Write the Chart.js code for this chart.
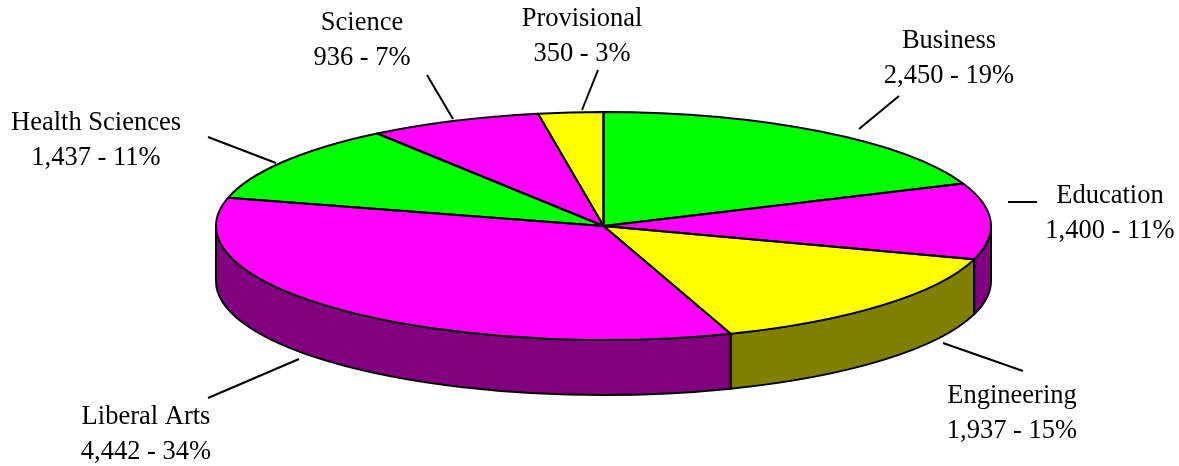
<!DOCTYPE html>
<html>
<head>
<meta charset="utf-8">
<script src="https://cdn.jsdelivr.net/npm/chart.js@4"></script>
<style>
  body { margin: 0; background: #fff; }
  #wrap { width: 1179px; height: 466px; }
</style>
</head>
<body>
<div id="wrap"><canvas id="pie" width="1179" height="466"></canvas></div>
<script>
// data
const categories = ['Business', 'Education', 'Engineering', 'Liberal Arts', 'Health Sciences', 'Science', 'Provisional'];
const students = [2450, 1400, 1937, 4442, 1437, 936, 350];

// styles
const topColors = ['#00ff00', '#ff00ff', '#ffff00', '#ff00ff', '#00ff00', '#ff00ff', '#ffff00'];
const sideColors = ['#008000', '#800080', '#808000', '#800080', '#008000', '#800080', '#808000'];

// where the squashed pie sits on the page
const CX = 603.5, CY = 226, RX = 387.5, RY = 114, DEPTH = 55;

// label text centre x, first baseline, leader line x1,y1,x2,y2
const labelSpots = [
  [949, 48, 899, 96, 859, 129],
  [1110, 203, 1008, 202, 1037, 202],
  [1012, 403, 943, 343, 1023, 371],
  [146, 424, 208, 398, 299, 359],
  [96, 130, 208, 137, 276, 163],
  [362, 30, 427, 75, 453, 119],
  [582, 26, 598, 70, 582, 110]
];
const LINE_GAP = 35;

const total = students.reduce((a, b) => a + b, 0);

const pie3d = {
  id: 'pie3d',
  beforeDatasetsDraw(chart) {
    const ctx = chart.ctx;
    const meta = chart.getDatasetMeta(0);
    // front wall for the part of each slice that faces the viewer
    ctx.save();
    ctx.lineWidth = 2;
    ctx.strokeStyle = '#000';
    ctx.lineJoin = 'round';
    meta.data.forEach((arc, i) => {
      const s = Math.max(arc.startAngle, 0);
      const e = Math.min(arc.endAngle, Math.PI);
      if (e <= s) return;
      ctx.beginPath();
      ctx.ellipse(CX, CY, RX, RY, 0, s, e);
      ctx.lineTo(CX + RX * Math.cos(e), CY + RY * Math.sin(e) + DEPTH);
      ctx.ellipse(CX, CY + DEPTH, RX, RY, 0, e, s, true);
      ctx.closePath();
      ctx.fillStyle = sideColors[i];
      ctx.fill();
      ctx.stroke();
    });
    ctx.restore();

    // squash the library's round pie into the ellipse of the top face
    const a = meta.data[0];
    ctx.save();
    ctx.translate(CX, CY);
    ctx.scale(RX / a.outerRadius, RY / a.outerRadius);
    ctx.translate(-a.x, -a.y);
  },
  afterDatasetsDraw(chart) {
    const ctx = chart.ctx;
    ctx.restore();
    const meta = chart.getDatasetMeta(0);

    ctx.save();
    ctx.lineWidth = 2;
    ctx.strokeStyle = '#000';
    ctx.lineJoin = 'round';
    meta.data.forEach(arc => {
      ctx.beginPath();
      ctx.moveTo(CX, CY);
      ctx.ellipse(CX, CY, RX, RY, 0, arc.startAngle, arc.endAngle);
      ctx.closePath();
      ctx.stroke();
    });

    // labels and leader lines
    ctx.fillStyle = '#000';
    ctx.font = '26.5px "Liberation Serif", "Times New Roman", serif';
    ctx.textAlign = 'center';
    ctx.textBaseline = 'alphabetic';
    ctx.lineWidth = 2;
    categories.forEach((name, i) => {
      const [tx, ty, x1, y1, x2, y2] = labelSpots[i];
      const pct = Math.round(students[i] / total * 100);
      ctx.fillText(name, tx, ty);
      ctx.fillText(students[i].toLocaleString('en-US') + ' - ' + pct + '%', tx, ty + LINE_GAP);
      ctx.beginPath();
      ctx.moveTo(x1, y1);
      ctx.lineTo(x2, y2);
      ctx.stroke();
    });
    ctx.restore();
  }
};

new Chart(document.getElementById('pie'), {
  type: 'pie',
  data: {
    labels: categories,
    datasets: [{
      data: students,
      backgroundColor: topColors,
      borderWidth: 0
    }]
  },
  options: {
    responsive: false,
    animation: false,
    events: [],
    rotation: 0,
    plugins: {
      legend: { display: false },
      tooltip: { enabled: false }
    }
  },
  plugins: [pie3d]
});
</script>
</body>
</html>
